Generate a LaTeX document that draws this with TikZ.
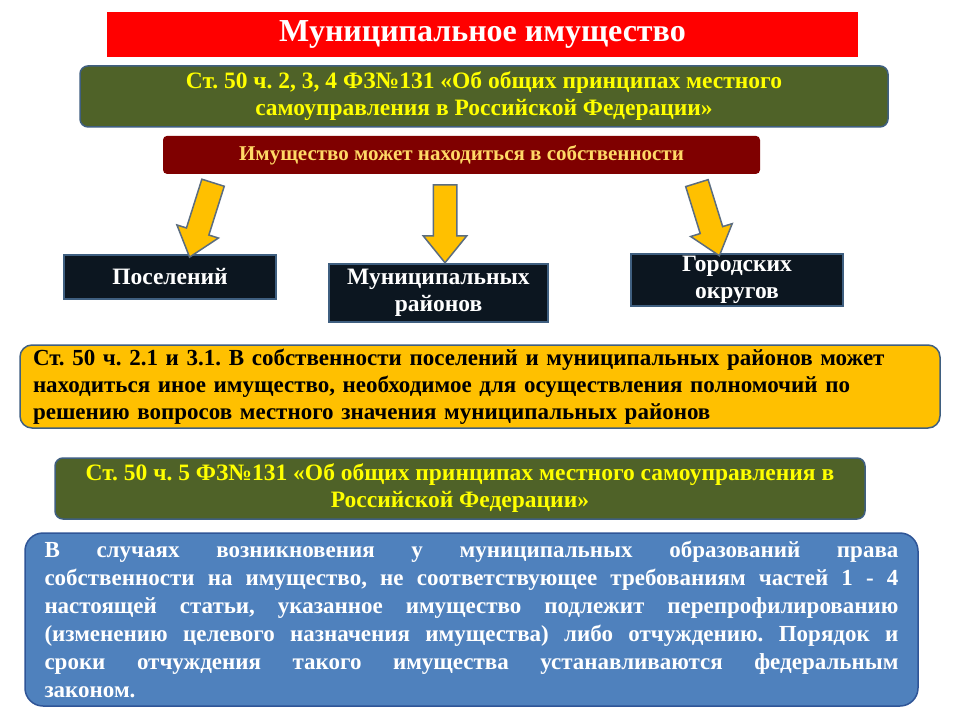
\documentclass[tikz,border=0pt]{standalone}
\usepackage{fontspec}
\setmainfont{Liberation Serif}
\usetikzlibrary{positioning, shapes.arrows}
\frenchspacing

\definecolor{titlered}{HTML}{FF0000}
\definecolor{lawgreen}{HTML}{4F6228}
\definecolor{lawtext}{HTML}{FFFF00}
\definecolor{ownred}{HTML}{7F0000}
\definecolor{owntext}{HTML}{FFD966}
\definecolor{arrowgold}{HTML}{FFC000}
\definecolor{arrowline}{HTML}{5B6D80}
\definecolor{boxdark}{HTML}{0C1620}
\definecolor{boxline}{HTML}{3F5F80}
\definecolor{notegold}{HTML}{FFC000}
\definecolor{ruleblue}{HTML}{4F81BD}
\definecolor{ruleline}{HTML}{2F5597}

\begin{document}
\begin{tikzpicture}[x=1pt, y=-1pt,
    title/.style={fill=titlered, text=white, font=\fontsize{32}{34}\selectfont\bfseries, minimum width=751pt, minimum height=45pt, inner sep=0pt},
    lawbox/.style={draw=boxline, line width=1.5pt, rounded corners=8pt, fill=lawgreen, text=lawtext, font=\fontsize{23.5}{27}\selectfont\bfseries, align=center, inner sep=0pt, minimum width=808pt, minimum height=61pt},
    ownbox/.style={fill=ownred, rounded corners=4pt, text=owntext, font=\fontsize{21}{24}\selectfont\bfseries, minimum width=597pt, minimum height=38pt, inner sep=0pt},
    kind/.style={draw=boxline, line width=1.5pt, fill=boxdark, text=white, font=\fontsize{23.5}{27}\selectfont\bfseries, align=center, minimum width=212pt, inner sep=0pt},
    goarrow/.style={single arrow, draw=arrowline, line width=1.5pt, fill=arrowgold, minimum width=42pt, minimum height=78pt, single arrow head extend=10pt, single arrow head indent=0pt, single arrow tip angle=78, inner xsep=0pt, inner ysep=11pt},
    note/.style={draw=boxline, line width=1.5pt, rounded corners=12pt, fill=notegold, font=\fontsize{23}{27}\selectfont\bfseries, align=left, text width=894pt, minimum height=83pt, inner xsep=13pt, inner ysep=0pt},
    rule/.style={draw=ruleline, line width=1.5pt, rounded corners=18pt, fill=ruleblue, text=white, font=\fontsize{23}{28}\selectfont\bfseries, align=justify, text width=854pt, minimum height=173pt, inner xsep=19.5pt, inner ysep=0pt}]

\fill[white] (0,0) rectangle (960,720);

% header and law
\node[title] (head) at (482.5,34.5) {Муниципальное имущество};
\node[lawbox, below=8pt of head, xshift=1.5pt] (law1) {Ст. 50 ч. 2, 3, 4 ФЗ№131 «Об общих принципах местного\\самоуправления в Российской Федерации»};
\node[ownbox, below=8pt of law1, xshift=-22.5pt] (own) {Имущество может находиться в собственности};

% three kinds of owners
\node[kind, minimum width=212pt, minimum height=44pt] (pos) at (170,277) {Поселений};
\node[kind, minimum width=219pt, minimum height=58pt] (mun) at (438.5,293) {Муниципальных\\районов};
\node[kind, minimum width=212pt, minimum height=52pt] (gor) at (737,280) {Городских\\округов};

% arrows
\node[goarrow, rotate=-107.5] (a1) at (203.5,213) {};
\node[goarrow, rotate=-90] (a2) at (445,216.5) {};
\node[goarrow, rotate=-72.8, minimum height=76pt] (a3) at (706,212.5) {};

% other property
\node[note] (other) at (480,386.5) {Ст. 50 ч. 2.1 и 3.1. В собственности поселений и муниципальных районов может\\находиться иное имущество, необходимое для осуществления полномочий по\\решению вопросов местного значения муниципальных районов};

% part 5
\node[lawbox, minimum width=810pt] (law2) at (460,488.5) {Ст. 50 ч. 5 ФЗ№131 «Об общих принципах местного самоуправления в\\Российской Федерации»};
\node[rule] (cases) at (471.5,619.5) {В случаях возникновения у муниципальных образований права\linebreak собственности на имущество, не соответствующее требованиям частей 1 - 4\linebreak настоящей статьи, указанное имущество подлежит перепрофилированию\linebreak (изменению целевого назначения имущества) либо отчуждению. Порядок и\linebreak сроки отчуждения такого имущества устанавливаются федеральным\linebreak законом.};
\end{tikzpicture}
\end{document}
